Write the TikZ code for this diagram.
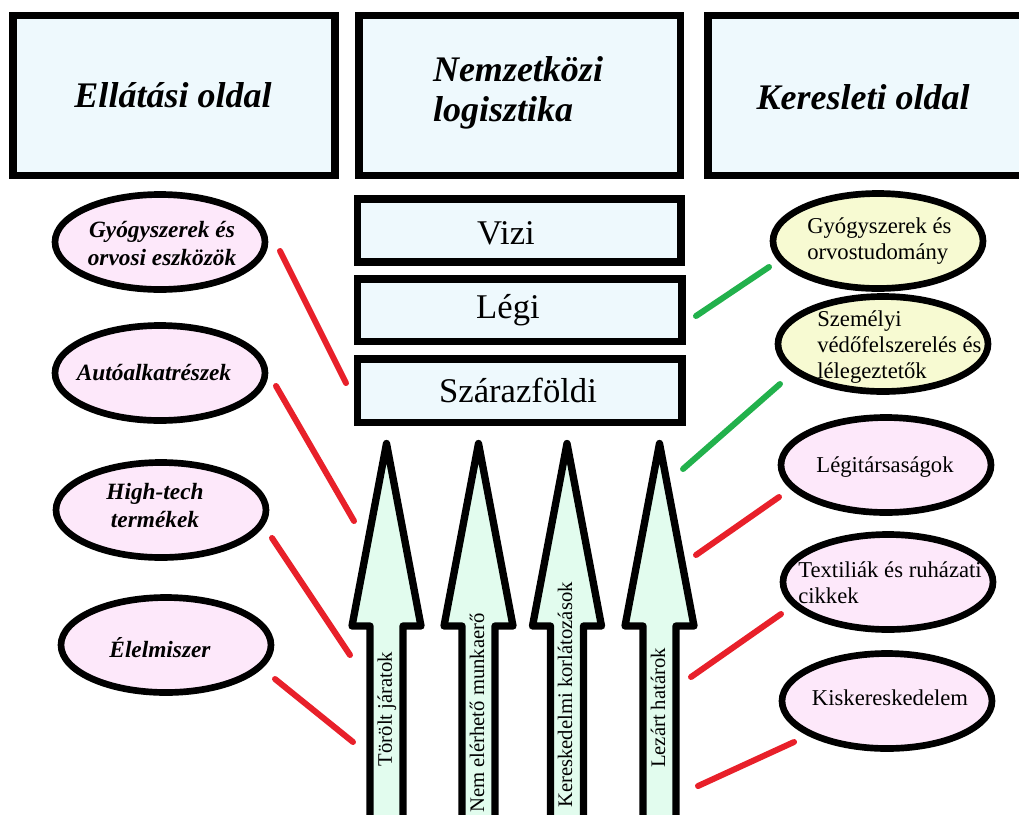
\documentclass[tikz,border=0pt]{standalone}
\usepackage{fontspec}
\setmainfont{Liberation Serif}
\usetikzlibrary{shapes.geometric}
\definecolor{boxfill}{HTML}{EEF9FD}
\definecolor{pinkfill}{HTML}{FDE8FA}
\definecolor{yelfill}{HTML}{F7FAD2}
\definecolor{arrfill}{HTML}{E2FCEE}
\definecolor{redline}{HTML}{E8202A}
\definecolor{greenline}{HTML}{22B14C}
\begin{document}
\begin{tikzpicture}[x=0.75pt,y=-0.75pt,
  hbox/.style={draw=black,line width=5.5pt,fill=boxfill,rectangle,inner sep=0pt},
  oval/.style={draw=black,line width=5pt,ellipse,inner sep=0pt,minimum width=210*0.75pt,minimum height=95*0.75pt},
  pinkoval/.style={oval,fill=pinkfill},
  yeloval/.style={oval,fill=yelfill},
  blockarr/.style={draw=black,line width=5.5pt,fill=arrfill,line join=round},
  headtxt/.style={font=\fontsize{27}{30}\selectfont\bfseries\itshape,inner sep=0pt,align=left},
  modetxt/.style={font=\fontsize{26}{30}\selectfont,inner sep=0pt},
  lefttxt/.style={font=\fontsize{17.5}{21}\selectfont\bfseries\itshape,inner sep=0pt,align=center},
  righttxt/.style={font=\fontsize{17}{19.5}\selectfont,inner sep=0pt,align=left},
  arrtxt/.style={font=\fontsize{15.5}{17}\selectfont,inner sep=0pt,rotate=90},
  redc/.style={draw=redline,line width=4.5pt,line cap=round},
  greenc/.style={draw=greenline,line width=4.5pt,line cap=round}]
\useasboundingbox (0,0) rectangle (1019,814);
\clip (0,0) rectangle (1019,814);

% header boxes
\node[hbox,minimum width=322*0.75pt,minimum height=160*0.75pt] (h1) at (174,95.5) {};
\node[hbox,minimum width=321.5*0.75pt,minimum height=160*0.75pt] (h2) at (519.75,95.5) {};
\node[hbox,minimum width=332*0.75pt,minimum height=160*0.75pt] (h3) at (874,95.5) {};
\node[headtxt] (h1t) at (173,95) {Ellátási oldal};
\node[headtxt] (h2t) at (518,93) {Nemzetközi\\logisztika};
\node[headtxt] (h3t) at (863,97) {Keresleti oldal};

% transport modes
\node[hbox,minimum width=323.5*0.75pt,minimum height=63*0.75pt] (vizi) at (519.25,230.5) {};
\node[hbox,minimum width=324.5*0.75pt,minimum height=62.5*0.75pt] (legi) at (519.75,310.25) {};
\node[hbox,minimum width=324.5*0.75pt,minimum height=63.5*0.75pt] (szar) at (519.75,390.75) {};
\node[modetxt] (vizit) at (506,233) {Vizi};
\node[modetxt] (legit) at (508,310) {Légi};
\node[modetxt] (szart) at (518,390) {Szárazföldi};

% block arrows
\foreach \cx in {386.5,478.5,567,659.5}{
  \draw[blockarr] ({\cx-16.5},835) -- ({\cx-16.5},626) -- ({\cx-34.5},626) -- (\cx,443.5)
     -- ({\cx+34.5},626) -- ({\cx+16.5},626) -- ({\cx+16.5},835);
}
\node[arrtxt] (a1) at (387,709) {Törölt járatok};
\node[arrtxt] (a2) at (477,713) {Nem elérhető munkaerő};
\node[arrtxt] (a3) at (565,695) {Kereskedelmi korlátozások};
\node[arrtxt] (a4) at (658,708) {Lezárt határok};

% left ellipses
\node[pinkoval] (e1) at (160,242) {};
\node[pinkoval] (e2) at (160,373) {};
\node[pinkoval] (e3) at (161,510) {};
\node[pinkoval] (e4) at (166,645) {};
\node[lefttxt] (e1t) at (162,244) {Gyógyszerek és\\orvosi eszközök};
\node[lefttxt] (e2t) at (154,373) {Autóalkatrészek};
\node[lefttxt] (e3t) at (155,506) {High-tech\\termékek};
\node[lefttxt] (e4t) at (160,648) {Élelmiszer};

% right ellipses
\node[yeloval] (r1) at (878,241) {};
\node[yeloval] (r2) at (883,344) {};
\node[pinkoval] (r3) at (886,465) {};
\node[pinkoval] (r4) at (888,582) {};
\node[pinkoval] (r5) at (887,701) {};
\node[righttxt,anchor=west] (r1t) at (807,241) {Gyógyszerek és\\orvostudomány};
\node[righttxt,anchor=west] (r2t) at (817,347) {Személyi\\védőfelszerelés és\\lélegeztetők};
\node[righttxt] (r3t) at (885,467) {Légitársaságok};
\node[righttxt,anchor=west] (r4t) at (798,583) {Textiliák és ruházati\\cikkek};
\node[righttxt] (r5t) at (890,698) {Kiskereskedelem};

% connector end points
\coordinate (l1s) at (280,251); \coordinate (l1e) at (346,383);
\coordinate (l2s) at (276,386); \coordinate (l2e) at (354,521);
\coordinate (l3s) at (272,538); \coordinate (l3e) at (350,655);
\coordinate (l4s) at (275,679); \coordinate (l4e) at (353,742);
\coordinate (g1s) at (696,316); \coordinate (g1e) at (769,267);
\coordinate (g2s) at (683,469); \coordinate (g2e) at (780,384);
\coordinate (k3s) at (696,555); \coordinate (k3e) at (779,497);
\coordinate (k4s) at (691,677); \coordinate (k4e) at (781,614);
\coordinate (k5s) at (698,786); \coordinate (k5e) at (794,742);

\draw[redc] (l1s) -- (l1e);
\draw[redc] (l2s) -- (l2e);
\draw[redc] (l3s) -- (l3e);
\draw[redc] (l4s) -- (l4e);
\draw[greenc] (g1s) -- (g1e);
\draw[greenc] (g2s) -- (g2e);
\draw[redc] (k3s) -- (k3e);
\draw[redc] (k4s) -- (k4e);
\draw[redc] (k5s) -- (k5e);
\end{tikzpicture}
\end{document}
